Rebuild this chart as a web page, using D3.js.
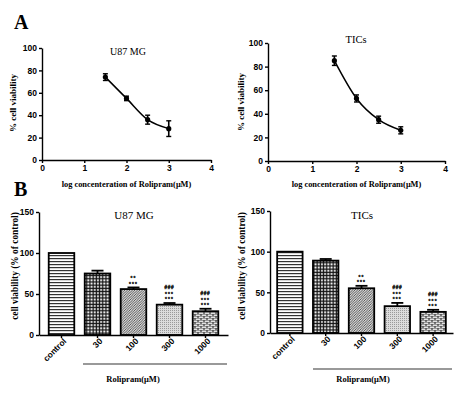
<!DOCTYPE html>
<html>
<head>
<meta charset="utf-8">
<script src="https://cdn.jsdelivr.net/npm/d3@7"></script>
<style>
  body { margin: 0; background: #fff; }
  svg { display: block; }
  .tick text { font-family: "Liberation Sans", Arial, sans-serif; font-weight: bold; }
</style>
</head>
<body>
<div id="chart"></div>
<script>
// panel A: dose response (log conc vs % viability)
var logConc = [1.5, 2, 2.5, 3];
var u87Viab = [74, 55, 36, 28];
var u87Err = [3, 2, 4, 7];
var ticViab = [85, 53, 35, 26];
var ticErr = [4, 3, 3, 3];
var curveXTicks = [0, 1, 2, 3, 4];
var curveYTicks = [0, 20, 40, 60, 80, 100];

// panel B: bars
var doseLabels = ["control", "30", "100", "300", "1000"];
var u87Bars = [100, 75, 56, 37, 29];
var u87BarErr = [0, 3.5, 2, 2, 3];
var ticBars = [100, 89, 55, 33, 26];
var ticBarErr = [0, 2, 3, 4, 2.5];
var u87Sig = [[], [], ["**", "***"], ["###", "***", "***"], ["###", "***", "***"]];
var ticSig = [[], [], ["**", "***"], ["###", "***", "***"], ["###", "***", "***"]];
var barYTicks = [0, 50, 100, 150];

var serif = '"Liberation Serif", "Times New Roman", serif';

var svg = d3.select("#chart").append("svg")
  .attr("width", 474)
  .attr("height", 395);

// fill patterns for the bars
var defs = svg.append("defs");

var p0 = defs.append("pattern").attr("id", "pat0").attr("patternUnits", "userSpaceOnUse")
  .attr("width", 4).attr("height", 3);
p0.append("rect").attr("width", 4).attr("height", 3).attr("fill", "#fff");
p0.append("rect").attr("y", 0).attr("width", 4).attr("height", 1.2).attr("fill", "#333");

var p1 = defs.append("pattern").attr("id", "pat1").attr("patternUnits", "userSpaceOnUse")
  .attr("width", 3.2).attr("height", 3.2);
p1.append("rect").attr("width", 3.2).attr("height", 3.2).attr("fill", "#111");
p1.append("rect").attr("x", 1).attr("y", 1).attr("width", 1.9).attr("height", 1.9).attr("fill", "#fff");

var p2 = defs.append("pattern").attr("id", "pat2").attr("patternUnits", "userSpaceOnUse")
  .attr("width", 2.5).attr("height", 2.5);
p2.append("rect").attr("width", 2.5).attr("height", 2.5).attr("fill", "#d6d6d6");
p2.append("path").attr("d", "M-1,1 L1,-1 M0,2.5 L2.5,0 M1.5,3.5 L3.5,1.5").attr("stroke", "#3a3a3a").attr("stroke-width", 0.8);

var p3 = defs.append("pattern").attr("id", "pat3").attr("patternUnits", "userSpaceOnUse")
  .attr("width", 2).attr("height", 2);
p3.append("rect").attr("width", 2).attr("height", 2).attr("fill", "#dcdcdc");
p3.append("rect").attr("width", 1).attr("height", 1).attr("fill", "#9a9a9a");

var p4 = defs.append("pattern").attr("id", "pat4").attr("patternUnits", "userSpaceOnUse")
  .attr("width", 6).attr("height", 4);
p4.append("rect").attr("width", 6).attr("height", 4).attr("fill", "#3a3a3a");
p4.append("rect").attr("x", 0.6).attr("y", 0.5).attr("width", 4.8).attr("height", 1.4).attr("fill", "#f4f4f4");
p4.append("rect").attr("x", -2.4).attr("y", 2.5).attr("width", 4.8).attr("height", 1.4).attr("fill", "#f4f4f4");
p4.append("rect").attr("x", 3.6).attr("y", 2.5).attr("width", 4.8).attr("height", 1.4).attr("fill", "#f4f4f4");

// panel letters
svg.append("text").attr("x", 14).attr("y", 29).text("A")
  .attr("font-family", serif).attr("font-weight", "bold").attr("font-size", "20px");
svg.append("text").attr("x", 14).attr("y", 196).text("B")
  .attr("font-family", serif).attr("font-weight", "bold").attr("font-size", "20px");

function drawCurve(c) {
  var x = d3.scaleLinear().domain([0, 4]).range([c.x0, c.x1]);
  var y = d3.scaleLinear().domain([0, 100]).range([c.y0, c.y1]);
  var g = svg.append("g");

  var xa = g.append("g").attr("transform", "translate(0," + c.y0 + ")")
    .call(d3.axisBottom(x).tickValues(curveXTicks).tickFormat(d3.format("d"))
      .tickSize(3).tickPadding(2).tickSizeOuter(0));
  var ya = g.append("g").attr("transform", "translate(" + c.x0 + ",0)")
    .call(d3.axisLeft(y).tickValues(curveYTicks).tickFormat(d3.format("d"))
      .tickSize(3).tickPadding(2).tickSizeOuter(0));
  [xa, ya].forEach(function(a) {
    a.selectAll("path,line").attr("stroke", "#000").attr("stroke-width", 1.4);
    a.selectAll("text").attr("font-size", "8.5px").attr("fill", "#000");
  });

  var pts = logConc.map(function(d, i) { return [d, c.vals[i], c.errs[i]]; });

  g.append("path").datum(pts)
    .attr("d", d3.line().x(function(d) { return x(d[0]); }).y(function(d) { return y(d[1]); })
      .curve(d3.curveMonotoneX))
    .attr("fill", "none").attr("stroke", "#000").attr("stroke-width", 1.5);

  var eb = g.selectAll(".eb").data(pts).enter().append("g");
  eb.append("line")
    .attr("x1", function(d) { return x(d[0]); }).attr("x2", function(d) { return x(d[0]); })
    .attr("y1", function(d) { return y(d[1] - d[2]); }).attr("y2", function(d) { return y(d[1] + d[2]); })
    .attr("stroke", "#000").attr("stroke-width", 1.6);
  [-1, 1].forEach(function(s) {
    eb.append("line")
      .attr("x1", function(d) { return x(d[0]) - 2.5; }).attr("x2", function(d) { return x(d[0]) + 2.5; })
      .attr("y1", function(d) { return y(d[1] + s * d[2]); }).attr("y2", function(d) { return y(d[1] + s * d[2]); })
      .attr("stroke", "#000").attr("stroke-width", 1.4);
  });
  eb.append("circle")
    .attr("cx", function(d) { return x(d[0]); }).attr("cy", function(d) { return y(d[1]); })
    .attr("r", 2.6).attr("fill", "#000");

  g.append("text").attr("x", c.titleX).attr("y", c.titleY).text(c.title)
    .attr("text-anchor", "middle").attr("font-family", serif).attr("font-size", c.titleSize);
  g.append("text").attr("x", (c.x0 + c.x1) / 2).attr("y", 187)
    .text("log concenteration of Rolipram(\u03bcM)")
    .attr("text-anchor", "middle").attr("font-family", serif).attr("font-weight", "bold").attr("font-size", "8.4px");
  g.append("text").attr("transform", "translate(" + c.labelX + "," + c.labelY + ") rotate(-90)")
    .text("% cell viability")
    .attr("text-anchor", "middle").attr("font-family", serif).attr("font-weight", "bold").attr("font-size", "9px");
}

function drawBars(c) {
  var x = d3.scaleBand().domain(doseLabels).range([c.x0, c.x1]).paddingInner(0.29).paddingOuter(c.outer);
  var y = d3.scaleLinear().domain([0, 150]).range([c.y0, c.y1]);
  var g = svg.append("g");

  g.selectAll(".bar").data(c.vals).enter().append("rect")
    .attr("x", function(d, i) { return x(doseLabels[i]); })
    .attr("y", function(d) { return y(d); })
    .attr("width", x.bandwidth())
    .attr("height", function(d) { return y(0) - y(d); })
    .attr("fill", function(d, i) { return "url(#pat" + i + ")"; })
    .attr("stroke", "#000").attr("stroke-width", 1.8);

  // error bars (upper only)
  c.vals.forEach(function(v, i) {
    if (!c.errs[i]) return;
    var cx = x(doseLabels[i]) + x.bandwidth() / 2;
    g.append("line").attr("x1", cx).attr("x2", cx).attr("y1", y(v)).attr("y2", y(v + c.errs[i]))
      .attr("stroke", "#000").attr("stroke-width", 1.8);
    g.append("line").attr("x1", cx - 6).attr("x2", cx + 6).attr("y1", y(v + c.errs[i])).attr("y2", y(v + c.errs[i]))
      .attr("stroke", "#000").attr("stroke-width", 1.8);
  });

  // significance marks, small rows stacked above the error cap
  c.sig.forEach(function(rows, i) {
    var cx = x(doseLabels[i]) + x.bandwidth() / 2;
    var top = y(c.vals[i] + c.errs[i]);
    var n = rows.length;
    rows.forEach(function(s, k) {
      var cy = top - 4.5 - (n - 1 - k) * 5.4;
      var hash = s.charAt(0) == "#";
      g.append("text").attr("x", cx).attr("y", cy + (hash ? 1.6 : 2.8)).text(s)
        .attr("text-anchor", "middle")
        .attr("font-family", '"Liberation Sans", Arial, sans-serif').attr("font-weight", "bold")
        .attr("font-size", hash ? "4.6px" : "4.8px").attr("letter-spacing", hash ? "0.7px" : "1.2px")
        .attr("fill", "#222").attr("stroke", "#222").attr("stroke-width", 0.35);
    });
  });

  var xa = g.append("g").attr("transform", "translate(0," + c.y0 + ")")
    .call(d3.axisBottom(x).tickSize(3).tickSizeOuter(0));
  xa.selectAll("text").attr("text-anchor", "end").attr("transform", "rotate(-45)")
    .attr("dx", "-0.1em").attr("dy", "0.55em").attr("x", 0).attr("y", 4)
    .attr("font-size", "8.5px").attr("fill", "#000");
  var ya = g.append("g").attr("transform", "translate(" + c.x0 + ",0)")
    .call(d3.axisLeft(y).tickValues(barYTicks).tickSize(3).tickPadding(2).tickSizeOuter(0));
  ya.selectAll("text").attr("font-size", "8.5px").attr("fill", "#000");
  [xa, ya].forEach(function(a) {
    a.selectAll("path,line").attr("stroke", "#000").attr("stroke-width", 1.4);
  });

  g.append("line").attr("x1", c.lineX0).attr("x2", c.lineX1).attr("y1", c.lineY).attr("y2", c.lineY)
    .attr("stroke", "#777").attr("stroke-width", 1.3);
  g.append("text").attr("x", c.rolX).attr("y", 382).text("Rolipram(\u03bcM)")
    .attr("text-anchor", "middle").attr("font-family", serif).attr("font-weight", "bold").attr("font-size", "8.5px");

  g.append("text").attr("x", c.titleX).attr("y", 219).text(c.title)
    .attr("text-anchor", "middle").attr("font-family", serif).attr("font-size", "11px");
  g.append("text").attr("transform", "translate(" + c.labelX + ",266) rotate(-90)")
    .text("cell viability (% of control)")
    .attr("text-anchor", "middle").attr("font-family", serif).attr("font-weight", "bold").attr("font-size", "9.4px");
}

drawCurve({ x0: 42, x1: 211, y0: 160, y1: 48, vals: u87Viab, errs: u87Err,
  title: "U87 MG", titleX: 128, titleY: 55, titleSize: "10px", labelX: 16, labelY: 103 });
drawCurve({ x0: 268, x1: 445, y0: 161, y1: 43, vals: ticViab, errs: ticErr,
  title: "TICs", titleX: 356, titleY: 43, titleSize: "10.5px", labelX: 244, labelY: 102 });

drawBars({ x0: 39, x1: 228, y0: 335, y1: 212, outer: 0.27, vals: u87Bars, errs: u87BarErr, sig: u87Sig,
  title: "U87 MG", titleX: 134, labelX: 18, lineX0: 83, lineX1: 227, lineY: 364, rolX: 133 });
drawBars({ x0: 270, x1: 453, y0: 333, y1: 211, outer: 0.2, vals: ticBars, errs: ticBarErr, sig: ticSig,
  title: "TICs", titleX: 362, labelX: 245, lineX0: 313, lineX1: 452, lineY: 369, rolX: 363 });
</script>
</body>
</html>
